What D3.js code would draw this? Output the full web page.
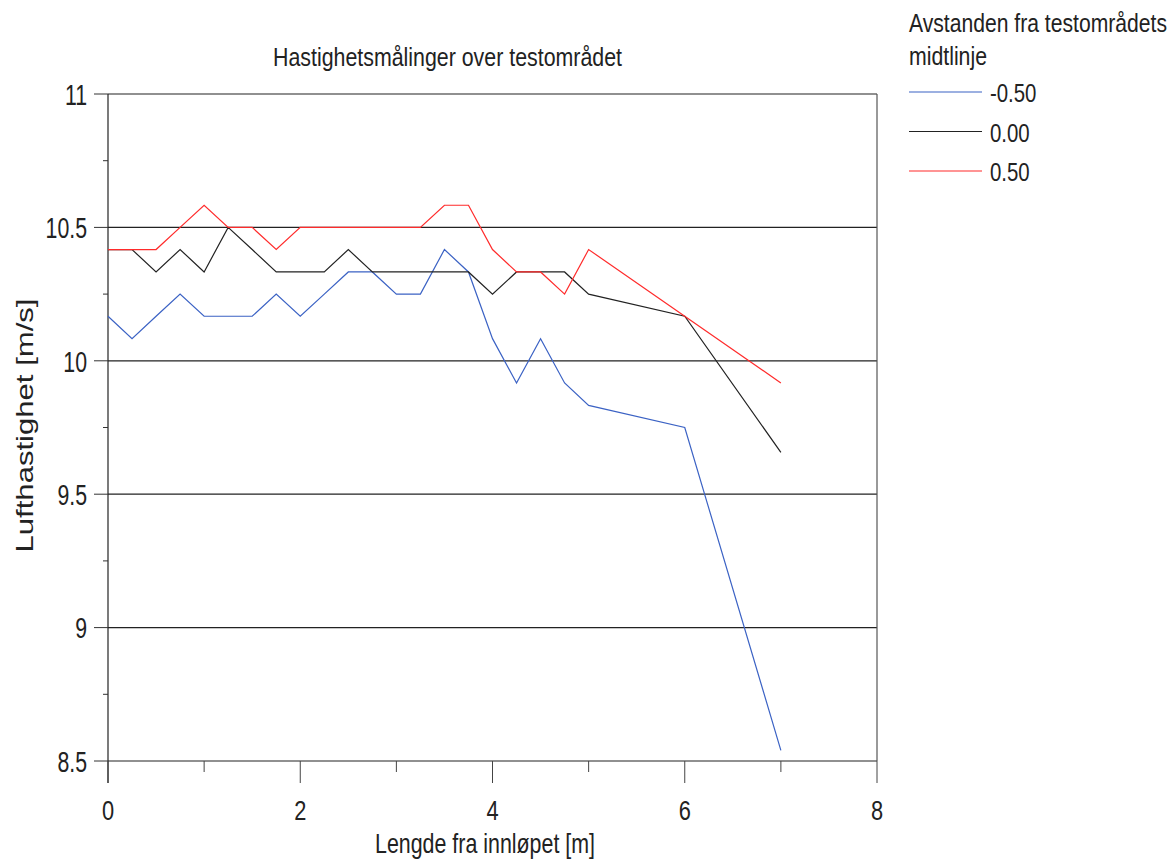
<!DOCTYPE html>
<html>
<head>
<meta charset="utf-8">
<script src="https://cdn.jsdelivr.net/npm/d3@7"></script>
<style>
  html, body { margin: 0; padding: 0; background: #fff; }
  svg { display: block; }
  text { font-family: "Liberation Sans", Arial, sans-serif; fill: #222; }
</style>
</head>
<body>
<svg id="chart" width="1176" height="861"></svg>
<script>
// Distance from inlet [m]
const positions = [0, 0.25, 0.5, 0.75, 1, 1.25, 1.5, 1.75, 2, 2.25, 2.5, 2.75, 3, 3.25, 3.5, 3.75, 4, 4.25, 4.5, 4.75, 5, 6, 7];

// Air speed [m/s] per offset from the centre line
const speedMinus050 = [10.167, 10.083, 10.167, 10.25, 10.167, 10.167, 10.167, 10.25, 10.167, 10.25, 10.333, 10.333, 10.25, 10.25, 10.417, 10.333, 10.083, 9.917, 10.083, 9.917, 9.833, 9.75, 8.54];
const speed000      = [10.417, 10.417, 10.333, 10.417, 10.333, 10.5, 10.417, 10.333, 10.333, 10.333, 10.417, 10.333, 10.333, 10.333, 10.333, 10.333, 10.25, 10.333, 10.333, 10.333, 10.25, 10.167, 9.657];
const speed050      = [10.417, 10.417, 10.417, 10.5, 10.583, 10.5, 10.5, 10.417, 10.5, 10.5, 10.5, 10.5, 10.5, 10.5, 10.583, 10.583, 10.417, 10.333, 10.333, 10.25, 10.417, 10.167, 9.917];

const seriesLabels = ["-0.50", "0.00", "0.50"];
const seriesColors = ["#3b62c4", "#222222", "#ff2b2b"];

const xTicks = [0, 2, 4, 6, 8];
const xMinorTicks = [1, 3, 5, 7];
const yTicks = [8.5, 9, 9.5, 10, 10.5, 11];
const yMinorTicks = [8.75, 9.25, 9.75, 10.25, 10.75];

const chartTitle = "Hastighetsmålinger over testområdet";
const xTitle = "Lengde fra innløpet [m]";
const yTitle = "Lufthastighet [m/s]";
const legendTitle = ["Avstanden fra testområdets", "midtlinje"];

const svg = d3.select("#chart");
const plot = { left: 108, right: 877, top: 94, bottom: 761 };

const x = d3.scaleLinear().domain([0, 8]).range([plot.left, plot.right]);
const y = d3.scaleLinear().domain([8.5, 11]).range([plot.bottom, plot.top]);

// Condensed text: a regular face squeezed horizontally
function narrowText(parent, tx, ty, sx, size, anchor, str) {
  const g = parent.append("g").attr("transform", `translate(${tx},${ty}) scale(${sx},1)`);
  return g.append("text")
    .attr("font-size", size)
    .attr("text-anchor", anchor)
    .text(str);
}

// Horizontal grid lines
svg.append("g")
  .selectAll("line")
  .data(yTicks)
  .join("line")
  .attr("x1", plot.left).attr("x2", plot.right)
  .attr("y1", d => y(d)).attr("y2", d => y(d))
  .attr("stroke", "#222").attr("stroke-width", 1.2);

// Right frame edge
svg.append("line")
  .attr("x1", plot.right).attr("x2", plot.right)
  .attr("y1", plot.top).attr("y2", plot.bottom)
  .attr("stroke", "#555").attr("stroke-width", 1.2);

// Left axis
const yAxis = svg.append("g").attr("transform", `translate(${plot.left},0)`);
yAxis.append("line")
  .attr("x1", 0).attr("x2", 0)
  .attr("y1", plot.top).attr("y2", plot.bottom + 22)
  .attr("stroke", "#222").attr("stroke-width", 1.2);
yAxis.selectAll(".ymaj").data(yTicks).join("line")
  .attr("x1", -14).attr("x2", 0)
  .attr("y1", d => y(d)).attr("y2", d => y(d))
  .attr("stroke", "#333").attr("stroke-width", 1);
yAxis.selectAll(".ymin").data(yMinorTicks).join("line")
  .attr("x1", -5).attr("x2", 0)
  .attr("y1", d => y(d)).attr("y2", d => y(d))
  .attr("stroke", "#333").attr("stroke-width", 1);
yTicks.forEach(v => {
  narrowText(svg, plot.left - 21, y(v) + 10.8, 0.71, 30, "end", d3.format("~g")(v));
});

// Bottom axis
const xAxis = svg.append("g").attr("transform", `translate(0,${plot.bottom})`);
xAxis.selectAll(".xmaj").data(xTicks).join("line")
  .attr("x1", d => x(d)).attr("x2", d => x(d))
  .attr("y1", 0).attr("y2", 22)
  .attr("stroke", "#444").attr("stroke-width", 1);
xAxis.selectAll(".xmin").data(xMinorTicks).join("line")
  .attr("x1", d => x(d)).attr("x2", d => x(d))
  .attr("y1", 0).attr("y2", 11)
  .attr("stroke", "#444").attr("stroke-width", 1);
xTicks.forEach(v => {
  narrowText(svg, x(v), plot.bottom + 59, 0.78, 28, "middle", String(v));
});

// Titles
svg.append("text")
  .attr("x", 447.5).attr("y", 66)
  .attr("text-anchor", "middle").attr("font-size", 26)
  .attr("textLength", 349).attr("lengthAdjust", "spacingAndGlyphs")
  .text(chartTitle);
svg.append("text")
  .attr("x", 485).attr("y", 853)
  .attr("text-anchor", "middle").attr("font-size", 28)
  .attr("textLength", 220).attr("lengthAdjust", "spacingAndGlyphs")
  .text(xTitle);
svg.append("text")
  .attr("transform", `translate(33,425.5) rotate(-90)`)
  .attr("text-anchor", "middle")
  .attr("font-size", 24)
  .attr("textLength", 254).attr("lengthAdjust", "spacingAndGlyphs")
  .text(yTitle);

// Data lines
const series = [speedMinus050, speed000, speed050];
const line = d3.line().x((d, i) => x(positions[i])).y(d => y(d));
svg.append("g")
  .selectAll("path")
  .data(series)
  .join("path")
  .attr("d", d => line(d))
  .attr("fill", "none")
  .attr("stroke", (d, i) => seriesColors[i])
  .attr("stroke-width", 1.2);

// Legend
const legend = svg.append("g");
legend.append("text")
  .attr("x", 909).attr("y", 32).attr("font-size", 25.5)
  .attr("textLength", 258).attr("lengthAdjust", "spacingAndGlyphs")
  .text(legendTitle[0]);
legend.append("text")
  .attr("x", 909).attr("y", 65).attr("font-size", 25.5)
  .attr("textLength", 78).attr("lengthAdjust", "spacingAndGlyphs")
  .text(legendTitle[1]);
seriesLabels.forEach((lab, i) => {
  const ly = 92 + i * 39.5;
  legend.append("line")
    .attr("x1", 909).attr("x2", 982).attr("y1", ly).attr("y2", ly)
    .attr("stroke", seriesColors[i]).attr("stroke-width", 1.2);
  narrowText(legend, 990, ly + 10, 0.77, 26.5, "start", lab);
});
</script>
</body>
</html>
